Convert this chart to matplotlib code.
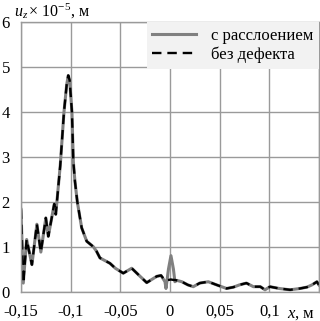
import matplotlib
matplotlib.use("Agg")
import matplotlib.pyplot as plt

plt.rcParams['font.family'] = ['Liberation Serif', 'DejaVu Serif']
plt.rcParams['mathtext.fontset'] = 'custom'
plt.rcParams['mathtext.rm'] = 'Liberation Serif'
plt.rcParams['mathtext.it'] = 'Liberation Serif:italic'

# x, m
x = [-0.15, -0.1477, -0.1443, -0.139, -0.134, -0.130, -0.125, -0.1225, -0.1165,
     -0.115, -0.1105, -0.1067, -0.104, -0.1024, -0.101, -0.0987, -0.0973, -0.0957,
     -0.0933, -0.0889, -0.0838, -0.0772, -0.074, -0.0705, -0.0604, -0.055, -0.047,
     -0.0385, -0.031, -0.0234, -0.0133, -0.009, -0.005, -0.004, -0.0015, 0.001,
     0.0035, 0.005, 0.007, 0.012, 0.018, 0.0235, 0.030, 0.0386, 0.047, 0.057,
     0.064, 0.070, 0.077, 0.084, 0.091, 0.0957, 0.1007, 0.11, 0.121, 0.131,
     0.138, 0.143, 0.148, 0.15]
# u_z * 1e-5 m, no defect
y_base = [1.83, 0.19, 1.16, 0.60, 1.50, 0.88, 1.64, 1.23, 1.95,
          1.72, 2.80, 4.00, 4.60, 4.81, 4.70, 4.00, 2.90, 2.46,
          2.00, 1.42, 1.12, 1.00, 0.90, 0.75, 0.63, 0.52, 0.41,
          0.52, 0.36, 0.20, 0.34, 0.36, 0.25, 0.25, 0.26, 0.27,
          0.26, 0.26, 0.25, 0.22, 0.15, 0.11, 0.19, 0.22, 0.15, 0.07,
          0.10, 0.15, 0.19, 0.11, 0.11, 0.04, 0.11, 0.07, 0.04, 0.07,
          0.10, 0.15, 0.22, 0.15]
# with delamination
y_delam = [1.83, 0.19, 1.16, 0.60, 1.50, 0.88, 1.64, 1.23, 1.95,
           1.72, 2.80, 4.00, 4.60, 4.81, 4.70, 4.00, 2.90, 2.46,
           2.00, 1.42, 1.12, 1.00, 0.90, 0.75, 0.63, 0.52, 0.41,
           0.52, 0.36, 0.20, 0.34, 0.36, 0.22, 0.07, 0.50, 0.80,
           0.50, 0.22, 0.25, 0.22, 0.15, 0.11, 0.19, 0.22, 0.15, 0.07,
           0.10, 0.15, 0.19, 0.11, 0.11, 0.04, 0.11, 0.07, 0.04, 0.07,
           0.10, 0.15, 0.22, 0.15]

xticks = [-0.15, -0.1, -0.05, 0, 0.05, 0.1, 0.15]
xlabels = ['-0,15', '-0,1', '-0,05', '0', '0,05', '0,1', '']
yticks = [0, 1, 2, 3, 4, 5, 6]

fig = plt.figure(figsize=(3.2, 3.21), dpi=100)
ax = fig.add_axes([0.0656, 0.0915, 0.931, 0.84])

ax.plot(x, y_delam, color='#808080', lw=2.2, label='с расслоением')
ax.plot(x, y_base, color='black', lw=1.7, dashes=(4, 2.5), label='без дефекта')

ax.set_xlim(-0.15, 0.15)
ax.set_ylim(0, 6)
ax.set_xticks(xticks)
ax.set_xticklabels(xlabels)
ax.set_yticks(yticks)
ax.tick_params(length=0, labelsize=12)
ax.tick_params(axis='x', pad=9)
ax.tick_params(axis='y', pad=8)
ax.grid(True, color='#9a9a9a', lw=1.0)
for s in ax.spines.values():
    s.set_color('#9a9a9a')
    s.set_linewidth(1.0)

ax.text(0.94, -0.084, '$x$, м', transform=ax.transAxes, fontsize=12,
        ha='center', va='center')
fig.text(0.045, 0.963, r'$u_z\,$× 10$^{-5}$, м', fontsize=11.5, ha='left', va='center')

leg = ax.legend(loc='upper right', bbox_to_anchor=(1, 1), borderaxespad=0,
                fontsize=12, handlelength=2.6, frameon=True, fancybox=False,
                borderpad=0.35, labelspacing=0.15, handletextpad=0.9)
leg.get_frame().set_facecolor('#f2f2f2')
leg.get_frame().set_edgecolor('none')
leg.get_frame().set_alpha(1)

fig.savefig('out.png', dpi=100)
